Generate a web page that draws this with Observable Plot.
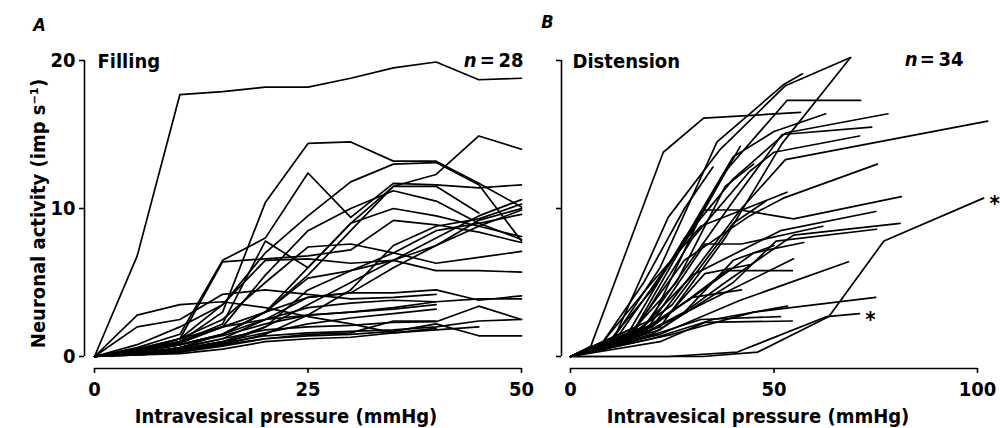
<!DOCTYPE html>
<html><head><meta charset="utf-8">
<script src="https://cdn.jsdelivr.net/npm/d3@7"></script>
<script src="https://cdn.jsdelivr.net/npm/@observablehq/plot@0.6"></script>
<style>
html,body{margin:0;padding:0;background:#fff;}
#chart{display:flex;width:1000px;height:428px;overflow:hidden;}
svg{display:block;}
</style></head><body><div id="chart"></div>
<script>
// ---------- data ----------
const xTicksA = [0, 25, 50];
const xTicksB = [0, 50, 100];
const yTicks = [0, 10, 20];

// Panel A (Filling): pressures sampled every 5 mmHg
const fillingPressures = [0, 5, 10, 15, 20, 25, 30, 35, 40, 45, 50];
const fillingSeries = [
  [0, 6.8, 17.7, 17.9, 18.2, 18.2, 18.8, 19.5, 19.9, 18.7, 18.8],
  [0, 0.4, 1.0, 3.0, 10.4, 14.4, 14.5, 13.2, 13.2, 11.7, 10.1],
  [0, 0.6, 1.5, 6.5, 8.0, 12.4, 9.4, 11.7, 11.6, 11.4, 11.6],
  [0, 0.3, 0.8, 1.5, 3.0, 6.0, 9.0, 11.5, 12.3, 14.9, 14.0],
  [0, 0.5, 1.2, 3.5, 7.0, 9.5, 11.8, 13.0, 13.1, 11.6, 7.8],
  [0, 0.3, 0.9, 2.0, 5.5, 8.5, 10.0, 11.2, 10.5, 9.0, 7.9],
  [0, 0.2, 0.6, 1.5, 3.0, 5.5, 8.5, 11.5, 11.5, 9.7],
  [0, 0.4, 1.0, 2.2, 7.8, 6.0, 9.0, 10.0, 9.5, 8.8, 8.1],
  [0, 0.3, 1.2, 6.4, 6.6, 6.8, 7.2, 9.2, 8.9, 8.4, 7.7],
  [0, 0.2, 0.5, 1.0, 2.0, 3.5, 5.0, 6.5, 8.0, 9.5, 10.6],
  [0, 0.2, 0.4, 0.8, 1.5, 2.8, 4.5, 7.5, 8.8, 9.3, 10.3],
  [0, 0.1, 0.3, 0.8, 2.0, 4.5, 5.8, 6.5, 7.5, 9.2, 10.0],
  [0, 0.3, 0.8, 1.5, 3.0, 5.3, 5.8, 7.0, 8.5, 9.0, 9.6],
  [0, 0.2, 0.6, 1.2, 2.5, 4.0, 4.3, 6.0, 7.5, 8.8, 9.9],
  [0, 0.8, 2.0, 3.5, 6.5, 6.6, 6.3, 6.5, 5.8, 5.8, 5.7],
  [0, 0.4, 1.2, 2.5, 5.0, 7.4, 7.6, 7.0, 6.3, 6.7, 7.1],
  [0, 0.5, 1.2, 2.0, 3.0, 4.0, 4.3, 4.3, 4.5, 3.8, 4.1],
  [0, 0.3, 0.8, 1.5, 2.5, 3.3, 3.6, 3.8, 3.7, 3.9, 3.9],
  [0, 0.2, 0.6, 1.2, 1.8, 2.0, 2.1, 2.3, 2.35, 3.4, 2.5],
  [0, 0.2, 0.5, 0.9, 1.4, 1.6, 1.7, 1.8, 2.0, 2.4, 2.5],
  [0, 0.2, 0.4, 0.8, 1.2, 1.4, 1.5, 1.7, 2.2, 1.4, 1.4],
  [0, 0.3, 0.8, 1.4, 2.2, 2.8, 3.0, 3.3, 3.7],
  [0, 0.4, 1.0, 2.0, 2.5, 2.8, 3.0, 3.2, 3.5],
  [0, 0.2, 0.5, 1.0, 1.6, 2.2, 2.6, 2.9, 3.2],
  [0, 0.1, 0.3, 0.7, 1.2, 1.5, 1.6, 2.4, 2.4],
  [0, 0.1, 0.2, 0.5, 1.0, 1.2, 1.3, 1.6, 1.9],
  [0, 2.8, 3.5, 3.7, 3.3, 2.7, 2.2, 1.6, 1.8, 2.0],
  [0, 2.0, 2.5, 4.2, 4.5, 4.2, 3.9, 4.0, 4.2]
];

// Panel B (Distension): [pressure, activity] vertices per neuron
const distensionSeries = [
  [[0,0],[5,0.7],[22.8,13.8],[32.7,16.1],[56.5,16.5]],
  [[0,0],[10,0.8],[24,9.4],[36.8,14.0],[52.8,18.3],[68.8,20.2]],
  [[0,0],[10,1.0],[22,6.0],[36,14.5],[52.5,18.4],[57,19.1]],
  [[0,0],[15,1.5],[38,12.5],[53.2,17.3],[71.3,17.3]],
  [[0,0],[12,1.5],[26,7.0],[40,13.5],[50,15.2],[62.7,16.4]],
  [[0,0],[14,1.5],[28,8.0],[40,12.0],[52.8,15.1],[78,16.4]],
  [[0,0],[18,2.0],[40,10.5],[48,13.5],[52,15.0],[74,15.5]],
  [[0,0],[16,1.8],[30,8.0],[44,12.5],[50,13.8],[71,14.9]],
  [[0,0],[20,2.0],[42,10.0],[52.8,13.3],[102.5,15.9]],
  [[0,0],[22,2.0],[38,8.0],[52,14.4],[68.8,20.2]],
  [[0,0],[16,2.0],[28,6.5],[44,9.5],[52.3,10.7],[75.4,13.0]],
  [[0,0],[8,1.0],[20,5.0],[32,8.8],[53.2,11.1]],
  [[0,0],[20,2.5],[32.7,9.9],[41.7,9.9],[54.8,9.3],[81.3,10.8]],
  [[0,0],[16,1.5],[30,5.5],[51.6,8.5],[75,9.8]],
  [[0,0],[22,1.8],[38,5.0],[54.8,8.2],[81,9.0]],
  [[0,0],[18,1.5],[33,7.6],[42,7.6],[62,8.8]],
  [[0,0],[20,1.5],[40,5.0],[50.5,7.8],[75.2,8.6]],
  [[0,0],[15,1.2],[30,4.0],[45,7.0],[57.3,7.7]],
  [[0,0],[18,1.5],[32,3.5],[54.8,6.6]],
  [[0,0],[22,1.5],[41.7,3.8],[68.3,6.4]],
  [[0,0],[20,2.0],[38.4,5.8],[54.5,5.8]],
  [[0,0],[25,1.5],[45,3.0],[75,4.0]],
  [[0,0],[20,1.2],[35,2.5],[53.3,3.4]],
  [[0,0],[15,1.0],[32,2.5],[51.6,2.7]],
  [[0,0],[22,1.0],[33,2.3],[54.5,2.4]],
  [[0,0],[32.5,0],[46,0.3],[63.5,2.7],[77,7.8],[101.5,10.7]],
  [[0,0],[24,0],[41,0.3],[63,2.7],[71,2.9]],
  [[0,0],[8,1.0],[18,5.0],[28,10.0],[35,12.8]],
  [[0,0],[10,1.2],[20,4.5],[30,8.5],[41.7,14.2]],
  [[0,0],[12,0.8],[26,5.0],[38,11.5],[45,13.0]],
  [[0,0],[15,1.5],[25,3.5],[40,9.0],[48,10.5]],
  [[0,0],[10,0.6],[24,2.8],[33,5.6],[44,6.2]],
  [[0,0],[8,0.5],[20,2.2],[30,4.0],[42,4.5]],
  [[0,0],[14,1.0],[28,3.0],[40,6.5],[50,7.5]]
];
const starredDistension = [25, 26];

const xLabel = "Intravesical pressure (mmHg)";
const yLabel = "Neuronal activity (imp s\u207B\u00B9)";

// ---------- build ----------
const FONT = "'DejaVu Sans Condensed', 'DejaVu Sans', sans-serif";
const rowsA = fillingSeries.flatMap((s, id) => s.map((v, i) => ({id, x: fillingPressures[i], y: v})));
const rowsB = distensionSeries.flatMap((s, id) => s.map(([x, y]) => ({id, x, y})));
const starEnds = starredDistension.map(i => distensionSeries[i][distensionSeries[i].length - 1]);

const txt = (s, o) => Plot.text([s], {text: d => d, fontFamily: FONT, fontSize: 20, fontWeight: "bold",
  fill: "black", lineAnchor: "middle", textAnchor: "middle", ...o});

const common = {
  height: 428, marginTop: 60, marginBottom: 72,
  y: {domain: [0, 20]},
  style: {fontFamily: FONT, background: "white", color: "black", overflow: "visible"}
};

const plotA = Plot.plot({
  ...common,
  width: 540, marginLeft: 94, marginRight: 19,
  x: {domain: [0, 50]},
  marks: [
    Plot.ruleX([0], {y1: 0, y2: 20, dx: -10, stroke: "black", strokeWidth: 1.6}),
    Plot.axisY({ticks: yTicks, dx: -10, tickSize: 5, tickPadding: 4, fontSize: 20, fontWeight: "bold", label: null, strokeWidth: 1.6}),
    Plot.ruleY([0], {x1: 0, x2: 50, dy: 12, stroke: "black", strokeWidth: 1.6}),
    Plot.axisX({ticks: xTicksA, dy: 12, tickSize: 5, tickPadding: 8, fontSize: 20, fontWeight: "bold", label: null, strokeWidth: 1.6}),
    Plot.line(rowsA, {x: "x", y: "y", z: "id", stroke: "black", strokeWidth: 1.7, strokeLinejoin: "round"}),
    txt(xLabel, {frameAnchor: "bottom", dx: -22, dy: 60}),
    txt(yLabel, {frameAnchor: "left", rotate: -90, dx: -56, dy: 5}),
    txt("A", {frameAnchor: "top-left", dx: -55, dy: -35, fontStyle: "italic", fontSize: 18}),
    txt("Filling", {frameAnchor: "top-left", textAnchor: "start", dx: 3, dy: 1}),
    txt("n", {frameAnchor: "top-right", textAnchor: "end", dx: -45, dy: 0, fontStyle: "italic"}),
    txt("=\u200928", {frameAnchor: "top-right", textAnchor: "end", dx: 2, dy: 0})
  ]
});

const plotB = Plot.plot({
  ...common,
  width: 460, marginLeft: 30, marginRight: 23,
  x: {domain: [0, 100]},
  marks: [
    Plot.ruleX([0], {y1: 0, y2: 20, dx: -9, stroke: "black", strokeWidth: 1.6}),
    Plot.axisY({ticks: yTicks, dx: -9, tickSize: 5, tickFormat: () => "", label: null, strokeWidth: 1.6}),
    Plot.ruleY([0], {x1: 0, x2: 100, dy: 12, stroke: "black", strokeWidth: 1.6}),
    Plot.axisX({ticks: xTicksB, dy: 12, tickSize: 5, tickPadding: 8, fontSize: 20, fontWeight: "bold", label: null, strokeWidth: 1.6}),
    Plot.line(rowsB, {x: "x", y: "y", z: "id", stroke: "black", strokeWidth: 1.7, strokeLinejoin: "round"}),
    Plot.text(starEnds, {x: d => d[0], y: d => d[1], text: () => "*", dx: 11, dy: 6, fontFamily: FONT, fontSize: 22, fontWeight: "bold"}),
    txt(xLabel, {frameAnchor: "bottom", dx: -16, dy: 60}),
    txt("B", {frameAnchor: "top-left", dx: -23, dy: -38, fontStyle: "italic", fontSize: 18}),
    txt("Distension", {frameAnchor: "top-left", textAnchor: "start", dx: 2, dy: 1}),
    txt("n", {frameAnchor: "top-right", textAnchor: "end", dx: -60, dy: -1, fontStyle: "italic"}),
    txt("=\u200934", {frameAnchor: "top-right", textAnchor: "end", dx: -14, dy: -1})
  ]
});

document.getElementById("chart").append(plotA, plotB);
</script></body></html>
